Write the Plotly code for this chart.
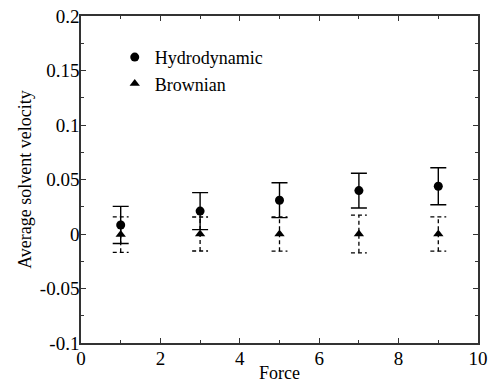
import plotly.graph_objects as go

force = [1, 3, 5, 7, 9]
hydro_v = [0.0083, 0.021, 0.031, 0.0398, 0.0438]
hydro_err = [0.017, 0.017, 0.016, 0.016, 0.017]
brown_v = [-0.0005, 0.0, 0.0, 0.0, 0.0]
brown_err = [0.0163, 0.0156, 0.0158, 0.0173, 0.0158]

x_ticks = [0, 2, 4, 6, 8, 10]
y_ticks = [-0.1, -0.05, 0, 0.05, 0.1, 0.15, 0.2]
y_labels = ["-0.1", "-0.05", "0", "0.05", "0.1", "0.15", "0.2"]

FONT = "Liberation Serif"
AX = "#333333"
cap = 0.2

# dashed error bars for Brownian built from data
ex, ey = [], []
for xv, yv, e in zip(force, brown_v, brown_err):
    ex += [xv, xv, None, xv - cap, xv + cap, None, xv - cap, xv + cap, None]
    ey += [yv - e, yv + e, None, yv + e, yv + e, None, yv - e, yv - e, None]

fig = go.Figure()
fig.add_trace(go.Scatter(
    x=ex, y=ey, mode="lines", line=dict(color="black", width=1.3, dash="4px,3px"),
    showlegend=False, hoverinfo="skip"))
fig.add_trace(go.Scatter(
    x=force, y=hydro_v, mode="markers", name="Hydrodynamic",
    marker=dict(symbol="circle", size=9, color="black"),
    error_y=dict(type="data", array=hydro_err, visible=True, color="black",
                 thickness=1.4, width=8)))
fig.add_trace(go.Scatter(
    x=force, y=brown_v, mode="markers", name="Brownian",
    marker=dict(symbol="triangle-up", size=9, color="black")))

axis_common = dict(
    showline=True, linecolor=AX, linewidth=1.5, mirror="allticks",
    ticks="inside", ticklen=5, tickcolor=AX, tickwidth=1.2,
    showgrid=False, zeroline=False, automargin=False,
    tickfont=dict(family=FONT, size=19, color="black"),
)

fig.update_xaxes(
    range=[0, 10], tickvals=x_ticks, ticktext=[str(v) for v in x_ticks],
    ticklabelstandoff=-3,
    minor=dict(ticks="inside", ticklen=3, dtick=1, tickcolor=AX, tickwidth=1.2),
    title=dict(text="Force", font=dict(family=FONT, size=18, color="black"), standoff=0),
    **axis_common)
fig.update_yaxes(
    range=[-0.1, 0.2], tickvals=y_ticks, ticktext=y_labels,
    ticklabelstandoff=-4,
    minor=dict(ticks="inside", ticklen=3, dtick=0.025, tickcolor=AX, tickwidth=1.2),
    title=dict(text="Average solvent velocity", font=dict(family=FONT, size=18, color="black"), standoff=4),
    **axis_common)

fig.update_layout(
    width=500, height=383,
    margin=dict(l=81, r=22, t=16, b=40),
    paper_bgcolor="white", plot_bgcolor="white",
    font=dict(family=FONT, size=18, color="black"),
    legend=dict(x=0.085, y=0.93, xanchor="left", yanchor="top",
                bgcolor="rgba(0,0,0,0)", font=dict(family=FONT, size=18),
                itemwidth=30, tracegroupgap=0),
)

fig.write_html("out.html", config={"displayModeBar": False},
               post_script="document.body.style.margin='0';")
